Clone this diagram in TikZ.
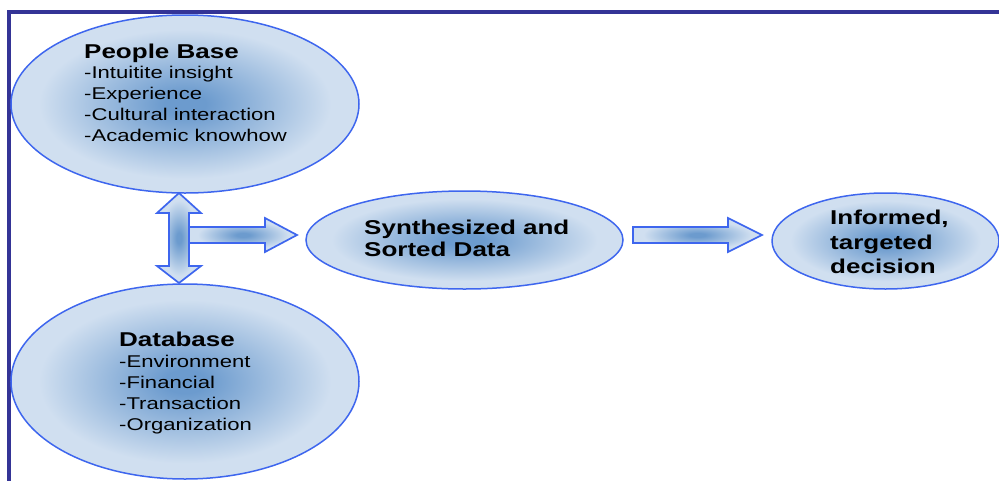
\documentclass[tikz,border=0pt]{standalone}
\usepackage{fontspec}
\setmainfont{Liberation Sans}[FakeStretch=1.3]
\usetikzlibrary{shapes.geometric}

\definecolor{rim}{RGB}{62,102,238}
\definecolor{frameblue}{RGB}{52,52,150}
\definecolor{blobmid}{RGB}{108,155,206}
\definecolor{blobedge}{RGB}{208,223,240}

% dark blue core fading to a pale rim
\pgfdeclareradialshading{blob}{\pgfpointorigin}{%
  color(0bp)=(blobmid); color(3bp)=(blobmid);
  color(21bp)=(blobedge); color(50bp)=(blobedge)}

\tikzset{
  blob/.style={ellipse, draw=rim, line width=1.5pt, shade, shading=blob, inner sep=0pt},
  blockarrow/.style={draw=rim, line width=1.7pt, line join=miter, shade, shading=blob},
  heading/.style={font=\bfseries\fontsize{20}{24}\selectfont, anchor=base west, inner sep=0pt},
  item/.style={font=\fontsize{17}{20}\selectfont, anchor=base west, inner sep=0pt},
}

\begin{document}
\begin{tikzpicture}[x=1pt,y=-1pt]
\useasboundingbox (0,0) rectangle (999,480);

% outer frame
\draw[frameblue, line width=4pt, line join=miter] (1003,12) -- (9,12) -- (9,484);

% ellipses
\node[blob, minimum width=348pt, minimum height=178pt] (people) at (185,104) {};
\node[blob, minimum width=348pt, minimum height=195pt] (database) at (185,381.5) {};
\node[blob, minimum width=317pt, minimum height=98pt] (synth) at (464.5,240) {};
\node[blob, minimum width=227pt, minimum height=96pt] (decision) at (885.5,241) {};

% block arrows
\draw[blockarrow] (189,227) -- (265,227) -- (265,218) -- (297,235) -- (265,252)
  -- (265,243) -- (189,243) -- cycle;
\draw[blockarrow] (179,193) -- (201,213) -- (189,213) -- (189,266) -- (201,266)
  -- (179,283) -- (157,266) -- (169,266) -- (169,213) -- (157,213) -- cycle;
\draw[blockarrow] (633,227) -- (728,227) -- (728,218) -- (762,235) -- (728,252)
  -- (728,243) -- (633,243) -- cycle;

% texts
\node[heading] (peoplehead) at (84,58.5) {People Base};
\foreach \t [count=\i] in {-Intuitite insight,-Experience,-Cultural interaction,-Academic knowhow}
  \node[item] (pb\i) at (84,{57.5+21*\i}) {\t};

\node[heading] (dbhead) at (119,346.5) {Database};
\foreach \t [count=\i] in {-Environment,-Financial,-Transaction,-Organization}
  \node[item] (db\i) at (119,{346.5+20.9*\i}) {\t};

\node[heading] (synth1) at (364,234) {Synthesized and};
\node[heading] (synth2) at (364,256) {Sorted Data};

\node[heading] (dec1) at (830,224) {Informed,};
\node[heading] (dec2) at (830,249) {targeted};
\node[heading] (dec3) at (830,273) {decision};
\end{tikzpicture}
\end{document}
